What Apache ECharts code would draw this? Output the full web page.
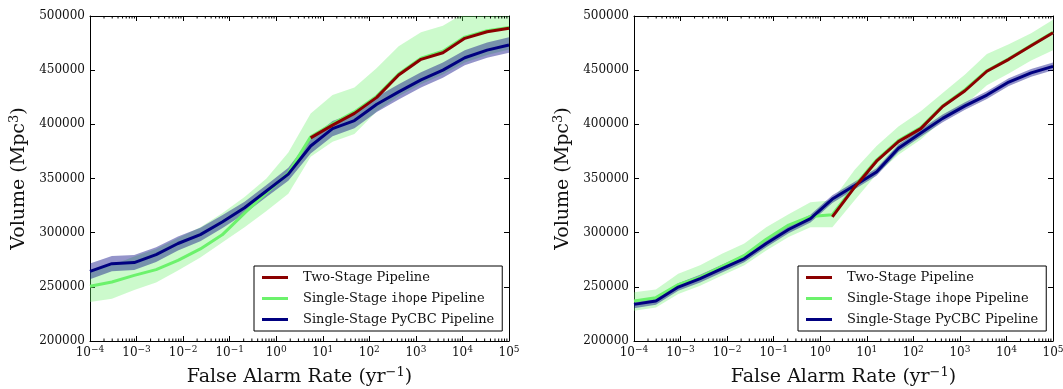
<!DOCTYPE html>
<html><head><meta charset="utf-8">
<script src="https://cdn.jsdelivr.net/npm/echarts@6/dist/echarts.min.js"></script>
<style>html,body{margin:0;padding:0;background:#fff}#c{width:1063px;height:389px}</style>
</head><body><div id="c"></div><script>
// x positions: log10 of false alarm rate (yr^-1)
const farExp = [-4, -3.53, -3.05, -2.58, -2.11, -1.63, -1.16, -0.68, -0.21, 0.26, 0.74, 1.21, 1.68, 2.16, 2.63, 3.11, 3.58, 4.05, 4.53, 5];
const xTickExp = [-4, -3, -2, -1, 0, 1, 2, 3, 4, 5];
const yTicks = [200000, 250000, 300000, 350000, 400000, 450000, 500000];
const seriesNames = ['Two-Stage Pipeline', 'Single-Stage ihope Pipeline', 'Single-Stage PyCBC Pipeline'];

// Left panel
const twoStageL = [null, null, null, null, null, null, null, null, null, null, 387500, 399300, 410100, 424900, 445500, 460000, 466100, 479400, 485500, 488600];
const ihopeL   = [250500, 254500, 260600, 265900, 274500, 285000, 298000, 318000, 337000, 355000, 388500, 400500, 411500, 426000, 446500, 461000, 467500, 480500, 486500, 489500];
const ihopeLLo = [236000, 239000, 247000, 254000, 265000, 277000, 291000, 305000, 320000, 336000, 370000, 384000, 391000, 412000, 426000, 437000, 446000, 457000, 464000, 469000];
const ihopeLHi = [265000, 270000, 278000, 285000, 295000, 305000, 318000, 333000, 350000, 374000, 410000, 427000, 434000, 452000, 472000, 485000, 491000, 503000, 510000, 515000];
const pycbcL   = [264300, 271400, 272400, 279800, 290000, 298200, 309900, 323000, 338500, 354000, 380000, 396000, 403500, 418500, 430000, 441000, 450000, 461500, 468500, 473200];
const pycbcLLo = [257000, 264500, 265500, 273000, 283500, 292000, 304000, 317500, 333000, 348000, 373000, 389000, 396500, 411500, 423000, 434000, 443000, 454500, 461500, 466000];
const pycbcLHi = [271500, 278500, 279500, 286500, 296500, 304500, 316000, 328500, 344000, 360000, 387000, 403000, 410500, 425500, 437000, 448000, 457000, 468500, 475500, 480500];

// Right panel
const twoStageR = [null, null, null, null, null, null, null, null, null, 314500, 342000, 366000, 384000, 396000, 416500, 431000, 449000, 460000, 472500, 484500];
const ihopeR   = [237000, 240000, 252000, 259000, 269000, 279000, 294000, 307000, 315000, 316500, 343000, 367000, 385000, 397000, 417000, 432000, 449500, 460500, 473000, 485000];
const ihopeRLo = [228000, 231000, 243500, 251000, 260500, 270000, 283500, 296000, 305000, 305000, 330000, 354000, 372000, 386000, 404000, 418000, 436000, 447000, 459000, 468500];
const ihopeRHi = [245000, 247500, 262000, 270000, 280500, 290000, 305000, 317000, 328000, 330000, 358000, 380000, 398000, 412000, 429000, 446000, 465000, 474000, 484000, 496500];
const pycbcR   = [233800, 236900, 249800, 257600, 266800, 276100, 290000, 302900, 313000, 331000, 343500, 356000, 378000, 392000, 405500, 417000, 427000, 439000, 447500, 453500];
const pycbcRLo = [230300, 233400, 246300, 254100, 263300, 272600, 286500, 299400, 309500, 327500, 340000, 352500, 374500, 388500, 402000, 413500, 423500, 435500, 444000, 450000];
const pycbcRHi = [237300, 240400, 253300, 261100, 270300, 279600, 293500, 306400, 316500, 334500, 347000, 359500, 381500, 395500, 409000, 420500, 430500, 442500, 451000, 457000];

const RED = '#8b0000', GREEN = '#6cf26c', BLUE = '#000080';
const SERIF = 'DejaVu Serif';

function pairs(arr) { return farExp.map((x, i) => [x, arr[i]]); }

// minor log ticks (2..9 within each decade)
const minorExp = [];
for (let d = -4; d < 5; d++) for (let k = 2; k <= 9; k++) minorExp.push([d + Math.log10(k), 0]);

function supLabel(v) {
  const s = v < 0 ? '\u2212' + Math.abs(v) : String(v);
  return '{b|10}{s|' + s + '}';
}

// filled band between lo and hi, drawn as one polygon through the axis scales
function bandSeries(p, lo, hi, fill) {
  return { type: 'custom', xAxisIndex: p, yAxisIndex: p, data: pairs(lo), silent: true, clip: true, z: 1,
    renderItem: function (params, api) {
      if (params.dataIndex !== 0) return null;
      const pts = [];
      for (let i = 0; i < farExp.length; i++) pts.push(api.coord([farExp[i], hi[i]]));
      for (let i = farExp.length - 1; i >= 0; i--) pts.push(api.coord([farExp[i], lo[i]]));
      const cs = params.coordSys;
      return { type: 'polygon', shape: { points: pts }, style: { fill: fill, stroke: null },
        clipPath: { type: 'rect', shape: { x: cs.x, y: cs.y, width: cs.width, height: cs.height } } };
    }
  };
}

function lineSeries(p, name, arr, color, z) {
  return { type: 'line', name: name, xAxisIndex: p, yAxisIndex: p, data: pairs(arr), symbol: 'none',
    lineStyle: { color: color, width: 3 }, itemStyle: { color: color }, z: z };
}

function minorTickSeries(p) {
  return { type: 'custom', xAxisIndex: p, yAxisIndex: p, data: minorExp, silent: true, z: 10,
    renderItem: function (params, api) {
      const px = api.coord([api.value(0), yTicks[0]])[0];
      const cs = params.coordSys;
      const st = { stroke: '#000', lineWidth: 1 };
      return { type: 'group', children: [
        { type: 'line', shape: { x1: px, y1: cs.y + cs.height, x2: px, y2: cs.y + cs.height - 2.5 }, style: st },
        { type: 'line', shape: { x1: px, y1: cs.y, x2: px, y2: cs.y + 2.5 }, style: st }
      ]};
    }
  };
}

const axisLineStyle = { show: true, onZero: false, lineStyle: { color: '#000', width: 1 } };
function xAxisBottom(g) {
  return { type: 'value', gridIndex: g, min: xTickExp[0], max: xTickExp[xTickExp.length - 1], interval: 1,
    position: 'bottom', axisLine: axisLineStyle, splitLine: { show: false },
    axisTick: { inside: true, length: 5, lineStyle: { color: '#000' } },
    axisLabel: { margin: 4, formatter: supLabel, color: '#111',
      rich: { b: { fontFamily: SERIF, fontSize: 12, color: '#111' },
              s: { fontFamily: SERIF, fontSize: 9, color: '#111', verticalAlign: 'top', padding: [0, 0, 6, 0] } } },
    name: 'False Alarm Rate (yr{s|\u22121})', nameLocation: 'middle', nameGap: 25,
    nameTextStyle: { fontFamily: SERIF, fontSize: 19, color: '#111',
      rich: { s: { fontFamily: SERIF, fontSize: 13, color: '#111', padding: [0, 0, 9, 0] } } } };
}
function xAxisTop(g) {
  return { type: 'value', gridIndex: g, min: xTickExp[0], max: xTickExp[xTickExp.length - 1], interval: 1,
    position: 'top', axisLine: axisLineStyle, splitLine: { show: false },
    axisTick: { inside: true, length: 5, lineStyle: { color: '#000' } }, axisLabel: { show: false } };
}
function yAxisLeft(g) {
  return { type: 'value', gridIndex: g, min: yTicks[0], max: yTicks[yTicks.length - 1], interval: 50000,
    position: 'left', axisLine: axisLineStyle, splitLine: { show: false },
    axisTick: { inside: true, length: 5, lineStyle: { color: '#000' } },
    axisLabel: { margin: 5, fontFamily: SERIF, fontSize: 12, color: '#111', formatter: function (v) { return String(v); } },
    name: 'Volume (Mpc{s|3})', nameLocation: 'middle', nameGap: 60,
    nameTextStyle: { fontFamily: SERIF, fontSize: 19, color: '#111',
      rich: { s: { fontFamily: SERIF, fontSize: 13, color: '#111', padding: [0, 0, 9, 0] } } } };
}
function yAxisRight(g) {
  return { type: 'value', gridIndex: g, min: yTicks[0], max: yTicks[yTicks.length - 1], interval: 50000,
    position: 'right', axisLine: axisLineStyle, splitLine: { show: false },
    axisTick: { inside: true, length: 5, lineStyle: { color: '#000' } }, axisLabel: { show: false } };
}

function legendFor(left) {
  return { left: left, top: 266, orient: 'vertical', itemWidth: 26, itemHeight: 3, itemGap: 8,
    icon: 'rect', backgroundColor: '#fff', borderColor: '#000', borderWidth: 1, borderRadius: 0,
    padding: [5, 8, 5, 8], data: seriesNames,
    formatter: function (n) { return n.replace('ihope', '{m|ihope}'); },
    textStyle: { fontFamily: SERIF, fontSize: 13, color: '#111', padding: [0, 0, 0, 10],
      rich: { m: { fontFamily: 'DejaVu Sans Mono', fontSize: 12, color: '#111' } } } };
}

const series = [];
[[0, ihopeLLo, ihopeLHi, pycbcLLo, pycbcLHi, ihopeL, pycbcL, twoStageL],
 [1, ihopeRLo, ihopeRHi, pycbcRLo, pycbcRHi, ihopeR, pycbcR, twoStageR]].forEach(function (P) {
  const p = P[0];
  series.push(bandSeries(p, P[1], P[2], 'rgba(108,242,108,0.35)'));
  series.push(bandSeries(p, P[3], P[4], 'rgba(0,0,128,0.42)'));
  series.push(lineSeries(p, seriesNames[1], P[5], GREEN, 3));
  series.push(lineSeries(p, seriesNames[2], P[6], BLUE, 4));
  series.push(lineSeries(p, seriesNames[0], P[7], RED, 5));
  series.push(minorTickSeries(p));
});

const option = {
  animation: false,
  backgroundColor: '#fff',
  grid: [
    { left: 90, right: 554, top: 16, bottom: 48, containLabel: false, outerBoundsMode: 'none' },
    { left: 634, right: 10, top: 16, bottom: 48, containLabel: false, outerBoundsMode: 'none' }
  ],
  xAxis: [xAxisBottom(0), xAxisBottom(1), xAxisTop(0), xAxisTop(1)],
  yAxis: [yAxisLeft(0), yAxisLeft(1), yAxisRight(0), yAxisRight(1)],
  legend: [legendFor(254), legendFor(798)],
  series: series
};
const chart = echarts.init(document.getElementById('c'), null, { renderer: 'canvas' });
chart.setOption(option);
</script></body></html>
